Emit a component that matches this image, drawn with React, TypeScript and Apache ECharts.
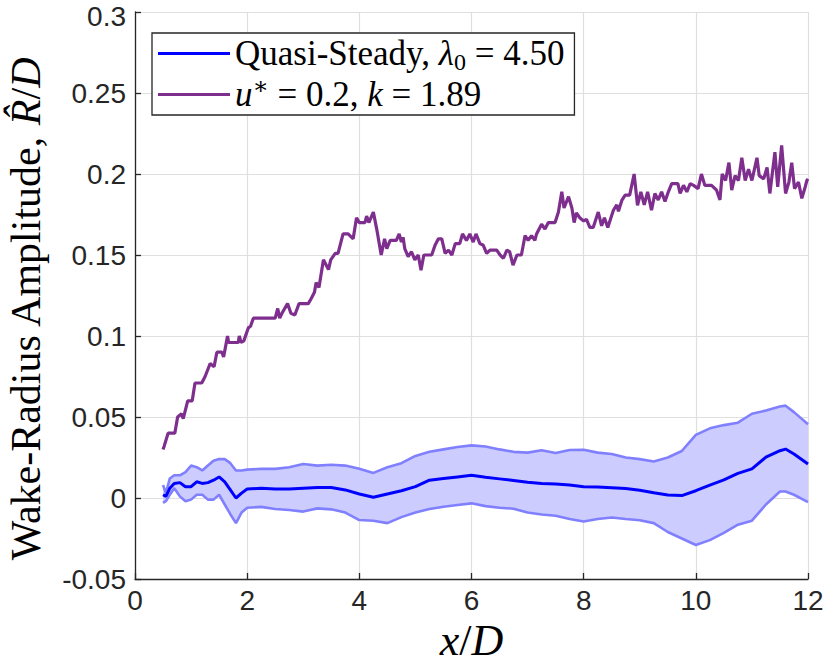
import React, { useEffect, useRef } from "react";
import * as echarts from "echarts";

// x/D ticks
const xTicks = [0, 2, 4, 6, 8, 10, 12];

// Quasi-steady mean and band (shared x)
const xBand = [0.5, 0.55, 0.62, 0.7, 0.8, 0.9, 1.0, 1.1, 1.2, 1.3, 1.4, 1.5, 1.6, 1.7, 1.8, 1.9, 2.0,
  2.25, 2.5, 2.75, 3.0, 3.25, 3.5, 3.75, 4.0, 4.25, 4.5, 4.75, 5.0, 5.25, 5.5, 5.75, 6.0,
  6.25, 6.5, 6.75, 7.0, 7.25, 7.5, 7.75, 8.0, 8.25, 8.5, 8.75, 9.0, 9.25, 9.5, 9.75, 10.0,
  10.25, 10.5, 10.75, 11.0, 11.25, 11.5, 11.6, 11.75, 12.0];

const meanQS = [0.002, 0.001, 0.006, 0.009, 0.0095, 0.007, 0.007, 0.010, 0.009, 0.0095, 0.011, 0.013, 0.010, 0.005, 0.000, 0.003, 0.0055,
  0.006, 0.0055, 0.0055, 0.006, 0.0065, 0.0065, 0.005, 0.0025, 0.0005, 0.0025, 0.0045, 0.007, 0.011, 0.012, 0.013, 0.014,
  0.0128, 0.0118, 0.0108, 0.0097, 0.009, 0.0086, 0.008, 0.007, 0.0068, 0.0064, 0.0058, 0.0048, 0.0032, 0.0018, 0.0015, 0.0045,
  0.008, 0.0112, 0.0152, 0.018, 0.0252, 0.0292, 0.0302, 0.0272, 0.021];

const upperQS = [0.008, 0.003, 0.012, 0.014, 0.014, 0.016, 0.020, 0.019, 0.017, 0.020, 0.023, 0.024, 0.024, 0.0215, 0.017, 0.017, 0.0175,
  0.018, 0.018, 0.019, 0.021, 0.020, 0.0205, 0.020, 0.018, 0.0155, 0.019, 0.0215, 0.026, 0.0285, 0.030, 0.0315, 0.0325,
  0.0318, 0.030, 0.0285, 0.028, 0.0295, 0.0278, 0.0296, 0.0298, 0.028, 0.0272, 0.025, 0.024, 0.0225, 0.025, 0.029, 0.039,
  0.043, 0.045, 0.0465, 0.052, 0.054, 0.0565, 0.057, 0.053, 0.0455];

const lowerQS = [-0.003, -0.002, 0.002, 0.006, 0.001, -0.002, -0.001, 0.002, 0.002, -0.001, -0.001, 0.002, -0.004, -0.010, -0.0155, -0.009, -0.006,
  -0.0055, -0.0068, -0.0074, -0.0084, -0.0064, -0.007, -0.009, -0.0136, -0.014, -0.0155, -0.0118, -0.009, -0.0068, -0.0054, -0.0043, -0.0033,
  -0.005, -0.006, -0.0066, -0.009, -0.0102, -0.011, -0.013, -0.0145, -0.013, -0.012, -0.013, -0.0137, -0.0155, -0.021, -0.025, -0.029,
  -0.026, -0.0215, -0.0165, -0.014, -0.004, 0.004, 0.004, 0.002, -0.0025];

// u* = 0.2, k = 1.89 series: [x/D, R/D]
const xU = [0.5, 0.52, 0.59, 0.71, 0.76, 0.83, 0.86, 0.94, 1.02, 1.07, 1.19, 1.25, 1.34, 1.41, 1.46, 1.55, 1.58, 1.65, 1.67, 1.84,
  1.86, 1.89, 1.94, 2.02, 2.06, 2.11, 2.5, 2.545, 2.58, 2.62, 2.72, 2.78, 2.85, 2.925, 3.09, 3.14, 3.2, 3.23, 3.28, 3.36,
  3.45, 3.49, 3.57, 3.62, 3.71, 3.8, 3.89, 3.95, 4.0, 4.1, 4.13, 4.17, 4.25, 4.31, 4.39, 4.45, 4.49, 4.55, 4.66, 4.71,
  4.75, 4.78, 4.81, 4.87, 4.93, 4.99, 5.05, 5.1, 5.15, 5.29, 5.35, 5.41, 5.47, 5.53, 5.59, 5.65, 5.71, 5.79, 5.84, 5.91,
  5.97, 6.03, 6.08, 6.15, 6.21, 6.27, 6.33, 6.45, 6.51, 6.57, 6.63, 6.68, 6.74, 6.81, 6.89, 6.955, 7.01, 7.07, 7.13, 7.16,
  7.25, 7.31, 7.37, 7.49, 7.55, 7.61, 7.65, 7.73, 7.79, 7.83, 7.87, 7.93, 8.0, 8.05, 8.11, 8.17, 8.26, 8.32, 8.37, 8.43,
  8.53, 8.59, 8.62, 8.68, 8.74, 8.82, 8.9, 8.96, 9.02, 9.08, 9.14, 9.21, 9.27, 9.33, 9.39, 9.45, 9.51, 9.57, 9.68, 9.72,
  9.78, 9.84, 9.9, 9.96, 10.04, 10.1, 10.16, 10.28, 10.37, 10.43, 10.47, 10.53, 10.59, 10.64, 10.7, 10.76, 10.82, 10.88, 10.94, 11.0,
  11.09, 11.13, 11.21, 11.27, 11.32, 11.41, 11.46, 11.53, 11.6, 11.66, 11.71, 11.76, 11.83, 11.89, 11.95, 11.98, 12.0];

const yU = [0.030, 0.032, 0.040, 0.040, 0.050, 0.052, 0.049, 0.060, 0.060, 0.071, 0.071, 0.075, 0.083, 0.081, 0.090, 0.090, 0.087, 0.100, 0.096, 0.096,
  0.100, 0.096, 0.097, 0.105, 0.106, 0.111, 0.111, 0.117, 0.111, 0.114, 0.120, 0.114, 0.113, 0.120, 0.120, 0.123, 0.127, 0.133, 0.130, 0.147,
  0.141, 0.147, 0.151, 0.151, 0.163, 0.163, 0.160, 0.173, 0.170, 0.170, 0.174, 0.170, 0.1765, 0.166, 0.150, 0.160, 0.154, 0.159, 0.159, 0.163,
  0.158, 0.161, 0.154, 0.149, 0.152, 0.147, 0.150, 0.1406, 0.150, 0.150, 0.156, 0.160, 0.160, 0.151, 0.153, 0.150, 0.157, 0.157, 0.163, 0.159,
  0.163, 0.158, 0.163, 0.157, 0.156, 0.151, 0.153, 0.153, 0.150, 0.148, 0.153, 0.152, 0.1437, 0.150, 0.150, 0.162, 0.159, 0.162, 0.159, 0.163,
  0.169, 0.166, 0.170, 0.170, 0.1765, 0.189, 0.179, 0.186, 0.179, 0.170, 0.176, 0.173, 0.171, 0.172, 0.167, 0.167, 0.1765, 0.168, 0.173, 0.167,
  0.1776, 0.181, 0.177, 0.1837, 0.187, 0.187, 0.200, 0.1806, 0.189, 0.181, 0.189, 0.1776, 0.188, 0.184, 0.189, 0.183, 0.189, 0.194, 0.194, 0.188,
  0.193, 0.189, 0.194, 0.193, 0.191, 0.200, 0.193, 0.193, 0.190, 0.184, 0.200, 0.196, 0.207, 0.190, 0.199, 0.196, 0.210, 0.196, 0.203, 0.196,
  0.210, 0.199, 0.197, 0.204, 0.188, 0.2135, 0.192, 0.2176, 0.188, 0.195, 0.207, 0.191, 0.195, 0.185, 0.192, 0.196, 0.197];

const SERIF = "'Liberation Serif', 'DejaVu Serif', serif";
const SANS = "'Liberation Sans', Arial, sans-serif";
const AX = "#262626";

export default function App() {
  const ref = useRef<HTMLDivElement>(null);
  useEffect(() => {
    if (!ref.current) return;
    const chart = echarts.init(ref.current, undefined, { renderer: "svg" });
    const pairs = (xs: number[], ys: number[]) => xs.map((x, i) => [x, ys[i]]);
    const option: any = {
      animation: false,
      backgroundColor: "#ffffff",
      grid: { left: 135, right: 22, top: 12, bottom: 93, containLabel: false, outerBoundsMode: "none" },
      legend: {
        data: ["qs", "us"],
        orient: "vertical",
        left: 152,
        top: 33,
        padding: [3, 10, 3, 6],
        itemGap: 0,
        itemWidth: 72,
        itemHeight: 3,
        icon: "rect",
        backgroundColor: "#ffffff",
        borderColor: AX,
        borderWidth: 1.3,
        borderRadius: 0,
        selectedMode: false,
        formatter: (name: string) =>
          name === "qs"
            ? "{t|Quasi-Steady, }{i|λ}{sub|0}{t| = 4.50}"
            : "{i|u}{sup|∗}{t| = 0.2, }{i|k}{t| = 1.89}",
        textStyle: {
          color: "#000",
          fontFamily: SERIF,
          fontSize: 35,
          rich: {
            t: { fontFamily: SERIF, fontSize: 35, color: "#000", lineHeight: 41 },
            i: { fontFamily: SERIF, fontSize: 35, fontStyle: "italic", color: "#000", lineHeight: 41 },
            sub: { fontFamily: SERIF, fontSize: 24, color: "#000", verticalAlign: "bottom", lineHeight: 24 },
            sup: { fontFamily: SERIF, fontSize: 24, color: "#000", verticalAlign: "top", lineHeight: 24 },
          },
        },
      },
      xAxis: {
        type: "value",
        min: 0,
        max: 12,
        interval: 2,
        name: "{i|x}{t|/}{i|D}",
        nameLocation: "middle",
        nameGap: 38,
        nameTextStyle: {
          rich: {
            t: { fontFamily: SERIF, fontSize: 44, color: "#000" },
            i: { fontFamily: SERIF, fontSize: 44, fontStyle: "italic", color: "#000" },
          },
        },
        axisLine: { show: true, onZero: false, lineStyle: { color: AX, width: 1.3 } },
        axisTick: { show: true, inside: true, length: 6, lineStyle: { color: AX, width: 1.3 } },
        axisLabel: {
          color: AX, fontFamily: SANS, fontSize: 28, margin: 10, lineHeight: 22,
          formatter: (v: number) => (xTicks.includes(v) ? String(v) : ""),
        },
        splitLine: { show: true, lineStyle: { color: "#dfdfdf", width: 1.2 } },
      },
      yAxis: {
        type: "value",
        min: -0.05,
        max: 0.3,
        interval: 0.05,
        name: "{t|Wake-Radius Amplitude, }{i|R̂}{t|/}{i|D}",
        nameLocation: "middle",
        nameRotate: 90,
        nameGap: 88,
        nameTextStyle: {
          padding: [0, 28, 0, 0],
          rich: {
            t: { fontFamily: SERIF, fontSize: 42, color: "#000" },
            i: { fontFamily: SERIF, fontSize: 42, fontStyle: "italic", color: "#000" },
          },
        },
        axisLine: { show: true, onZero: false, lineStyle: { color: AX, width: 1.3 } },
        axisTick: { show: true, inside: true, length: 6, lineStyle: { color: AX, width: 1.3 } },
        axisLabel: {
          color: AX, fontFamily: SANS, fontSize: 28, margin: 9, lineHeight: 22,
          formatter: (v: number) => {
            const s = String(parseFloat(v.toFixed(3)));
            return v > 0.29 ? "{top|" + s + "}" : s;
          },
          rich: {
            top: { fontFamily: SANS, fontSize: 28, color: AX, lineHeight: 22, padding: [8, 0, 0, 0] },
          },
        },
        splitLine: { show: true, lineStyle: { color: "#dfdfdf", width: 1.2 } },
      },
      series: [
        {
          type: "custom",
          name: "band",
          silent: true,
          z: 1,
          clip: true,
          data: [[xBand[0], upperQS[0]]],
          renderItem: (params: any, api: any) => {
            if (params.dataIndex !== 0) return null;
            const pts: number[][] = [];
            for (let i = 0; i < xBand.length; i++) pts.push(api.coord([xBand[i], upperQS[i]]));
            for (let i = xBand.length - 1; i >= 0; i--) pts.push(api.coord([xBand[i], lowerQS[i]]));
            return { type: "polygon", shape: { points: pts }, style: { fill: "#ccccff", stroke: "none" } };
          },
        },
        {
          type: "line", name: "upper", data: pairs(xBand, upperQS), showSymbol: false, symbol: "none", z: 2,
          lineStyle: { color: "#8080ff", width: 2.6 }, itemStyle: { color: "#8080ff" },
        },
        {
          type: "line", name: "lower", data: pairs(xBand, lowerQS), showSymbol: false, symbol: "none", z: 2,
          lineStyle: { color: "#8080ff", width: 2.6 }, itemStyle: { color: "#8080ff" },
        },
        {
          type: "line", name: "qs", data: pairs(xBand, meanQS), showSymbol: false, symbol: "none", z: 3,
          lineStyle: { color: "#0000ff", width: 3 }, itemStyle: { color: "#0000ff" },
        },
        {
          type: "line", name: "us", data: pairs(xU, yU), showSymbol: false, symbol: "none", z: 4,
          lineStyle: { color: "#7e2f8e", width: 3.2 }, itemStyle: { color: "#7e2f8e" },
        },
      ],
    };
    chart.setOption(option);
    return () => chart.dispose();
  }, []);
  return <div ref={ref} style={{ position: "fixed", left: 0, top: 0, width: 830, height: 672 }} />;
}
